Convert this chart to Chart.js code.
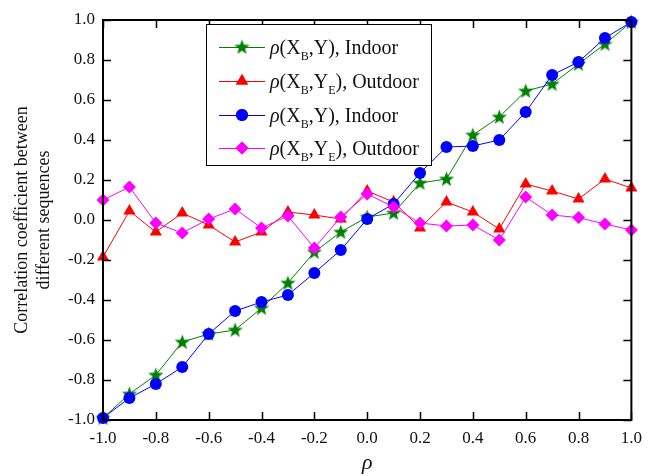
<!DOCTYPE html>
<html>
<head>
<meta charset="utf-8">
<script src="https://cdn.jsdelivr.net/npm/chart.js@4.4.1/dist/chart.umd.min.js"></script>
<style>
  html, body { margin: 0; padding: 0; background: #fff; }
  #wrap { width: 650px; height: 476px; position: relative; }
</style>
</head>
<body>
<div id="wrap"><canvas id="chart"></canvas></div>
<script>
  // x positions (rho)
  const RHO = [-1.0, -0.9, -0.8, -0.7, -0.6, -0.5, -0.4, -0.3, -0.2, -0.1, 0.0,
               0.1, 0.2, 0.3, 0.4, 0.5, 0.6, 0.7, 0.8, 0.9, 1.0];

  const INDOOR_GREEN = [-0.99, -0.87, -0.775, -0.61, -0.57, -0.55, -0.44, -0.315, -0.16, -0.06, 0.015,
                        0.035, 0.185, 0.205, 0.425, 0.515, 0.645, 0.68, 0.78, 0.88, 0.99];
  const OUTDOOR_RED = [-0.185, 0.045, -0.06, 0.035, -0.025, -0.11, -0.06, 0.04, 0.025, 0.005, 0.145,
                       0.09, -0.04, 0.09, 0.04, -0.045, 0.18, 0.145, 0.105, 0.205, 0.16];
  const INDOOR_BLUE = [-0.99, -0.89, -0.82, -0.735, -0.57, -0.455, -0.41, -0.375, -0.265, -0.15, 0.005,
                       0.08, 0.235, 0.365, 0.37, 0.40, 0.54, 0.725, 0.79, 0.91, 0.99];
  const OUTDOOR_MAGENTA = [0.10, 0.165, -0.015, -0.065, 0.005, 0.055, -0.04, 0.02, -0.14, 0.015, 0.13,
                           0.065, -0.015, -0.03, -0.025, -0.10, 0.115, 0.025, 0.012, -0.02, -0.05];

  const TICKS = [-1.0, -0.8, -0.6, -0.4, -0.2, 0.0, 0.2, 0.4, 0.6, 0.8, 1.0];

  const SERIF = "'Liberation Serif', 'Times New Roman', serif";
  const AREA = { left: 103, right: 640, top: 20, bottom: 420 };

  function starImage(color) {
    var c = document.createElement('canvas');
    c.width = 17; c.height = 17;
    var g = c.getContext('2d');
    g.beginPath();
    for (var i = 0; i < 10; i++) {
      var r = i % 2 === 0 ? 8 : 3.3;
      var a = -Math.PI / 2 + i * Math.PI / 5;
      var px = 8.5 + r * Math.cos(a), py = 9 + r * Math.sin(a);
      if (i === 0) g.moveTo(px, py); else g.lineTo(px, py);
    }
    g.closePath();
    g.fillStyle = color;
    g.fill();
    return c;
  }

  const STAR = starImage('#008000');

  function pts(ys) {
    return RHO.map(function (x, i) { return { x: x, y: ys[i] }; });
  }

  const SERIES = [
    { data: INDOOR_GREEN, color: '#008000', style: STAR, radius: 8, sub2: false, place: 'Indoor', order: 3 },
    { data: OUTDOOR_RED, color: '#ff0000', style: 'triangle', radius: 7, sub2: true, place: 'Outdoor', order: 2 },
    { data: INDOOR_BLUE, color: '#0000ff', style: 'circle', radius: 6, sub2: false, place: 'Indoor', order: 1 },
    { data: OUTDOOR_MAGENTA, color: '#ff00ff', style: 'rectRot', radius: 6.5, sub2: true, place: 'Outdoor', order: 0 },
  ];

  // frame, inward ticks, axis titles and legend
  const decorations = {
    id: 'decorations',
    afterDraw: function (chart) {
      var ctx = chart.ctx;
      var xs = chart.scales.x, ys = chart.scales.y;
      var a = chart.chartArea;
      ctx.save();
      ctx.strokeStyle = '#000';
      ctx.lineWidth = 1.5;
      TICKS.forEach(function (t) {
        var px = Math.round(xs.getPixelForValue(t)) + 0.5;
        ctx.beginPath();
        ctx.moveTo(px, a.bottom); ctx.lineTo(px, a.bottom - 8);
        ctx.moveTo(px, a.top); ctx.lineTo(px, a.top + 8);
        ctx.stroke();
        var py = Math.round(ys.getPixelForValue(t)) + 0.5;
        ctx.beginPath();
        ctx.moveTo(a.left, py); ctx.lineTo(a.left + 8, py);
        ctx.moveTo(a.right, py); ctx.lineTo(a.right - 8, py);
        ctx.stroke();
      });
      ctx.lineWidth = 2;
      ctx.strokeRect(a.left, a.top, a.right - a.left, a.bottom - a.top);

      // axis titles
      ctx.fillStyle = '#111';
      ctx.textAlign = 'center';
      ctx.textBaseline = 'middle';
      ctx.font = 'italic 22px ' + SERIF;
      ctx.fillText('\u03c1', (a.left + a.right) / 2, 463);
      ctx.save();
      ctx.translate(33, (a.top + a.bottom) / 2);
      ctx.rotate(-Math.PI / 2);
      ctx.font = '18px ' + SERIF;
      ctx.fillText('Correlation coefficient between', 0, -11);
      ctx.fillText('different sequences', 0, 11);
      ctx.restore();

      // legend
      var box = { x: 206, y: 24, w: 225, h: 141 };
      ctx.fillStyle = '#fff';
      ctx.fillRect(box.x, box.y, box.w, box.h);
      ctx.lineWidth = 1;
      ctx.strokeStyle = '#000';
      ctx.strokeRect(box.x + 0.5, box.y + 0.5, box.w, box.h);
      var rows = [47, 81, 115, 148];
      SERIES.forEach(function (s, i) {
        var y = rows[i];
        ctx.strokeStyle = s.color;
        ctx.lineWidth = 1;
        ctx.beginPath();
        ctx.moveTo(219, y + 0.5); ctx.lineTo(265, y + 0.5);
        ctx.stroke();
        ctx.fillStyle = s.color;
        Chart.helpers.drawPoint(ctx, { pointStyle: s.style, radius: s.radius, rotation: 0, borderWidth: 0 }, 242, y);
        if (s.style !== STAR) ctx.fill();
        drawLabel(ctx, 270, y, s);
      });
      ctx.restore();
    }
  };

  function drawLabel(ctx, x, y, s) {
    var big = '20px ' + SERIF, small = '12px ' + SERIF;
    ctx.fillStyle = '#111';
    ctx.textAlign = 'left';
    ctx.textBaseline = 'alphabetic';
    var base = y + 7;
    var parts = [
      ['\u03c1', 'italic ' + big, 0],
      ['(X', big, 0],
      ['B', small, 6],
      [',Y', big, 0],
    ];
    if (s.sub2) parts.push(['E', small, 6]);
    parts.push(['), ' + s.place, big, 0]);
    parts.forEach(function (p) {
      ctx.font = p[1];
      ctx.fillText(p[0], x, base + p[2]);
      x += ctx.measureText(p[0]).width;
    });
  }

  const tickFont = { family: SERIF, size: 17 };

  new Chart(document.getElementById('chart'), {
    type: 'line',
    data: {
      datasets: SERIES.map(function (s) {
        return {
          data: pts(s.data),
          borderColor: s.color,
          backgroundColor: s.color,
          borderWidth: 1,
          pointStyle: s.style,
          pointRadius: s.radius,
          pointBorderWidth: 0,
          pointBorderColor: s.color,
          tension: 0,
          fill: false,
          order: s.order,
          clip: false,
        };
      }),
    },
    options: {
      responsive: true,
      maintainAspectRatio: false,
      animation: false,
      layout: { padding: { top: AREA.top, right: 650 - AREA.right, left: 0, bottom: 0 } },
      plugins: { legend: { display: false }, tooltip: { enabled: false } },
      scales: {
        x: {
          type: 'linear',
          min: -1, max: 1,
          afterBuildTicks: function (sc) { sc.ticks = TICKS.map(function (v) { return { value: v }; }); },
          afterFit: function (sc) { sc.height = 476 - AREA.bottom; },
          grid: { display: false, drawTicks: false },
          border: { display: false },
          ticks: {
            font: tickFont, color: '#111', padding: 8, maxRotation: 0,
            callback: function (v) { return Number(v).toFixed(1); },
          },
        },
        y: {
          min: -1, max: 1,
          afterBuildTicks: function (sc) { sc.ticks = TICKS.map(function (v) { return { value: v }; }); },
          afterFit: function (sc) { sc.width = AREA.left; },
          grid: { display: false, drawTicks: false },
          border: { display: false },
          ticks: {
            font: tickFont, color: '#111', padding: 8,
            callback: function (v) { return Number(v).toFixed(1); },
          },
        },
      },
    },
    plugins: [decorations],
  });
</script>
</body>
</html>
